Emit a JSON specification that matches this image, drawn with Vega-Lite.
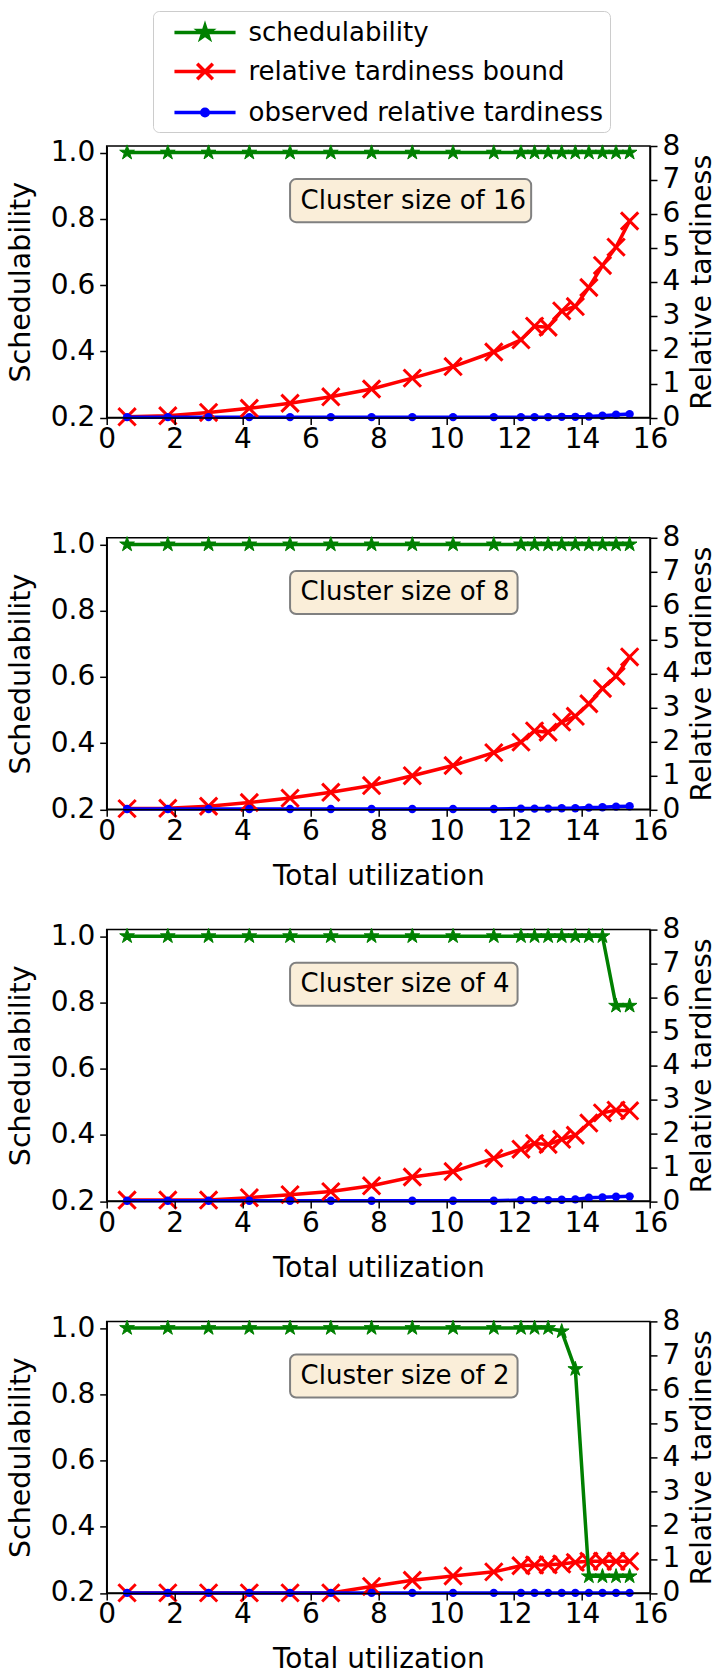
{
"$schema":"https://vega.github.io/schema/vega-lite/v6.json",
"autosize":{"type":"none"},
"padding":{"left":106.7,"top":146,"right":613.3,"bottom":1527},
"background":"white",
"datasets":{"d":[
{"c":16,"u":0.6,"sch":1,"rtb":0.02,"ort":0.01},
{"c":16,"u":1.8,"sch":1,"rtb":0.05,"ort":0.01},
{"c":16,"u":3.0,"sch":1,"rtb":0.15,"ort":0.01},
{"c":16,"u":4.2,"sch":1,"rtb":0.27,"ort":0.01},
{"c":16,"u":5.4,"sch":1,"rtb":0.42,"ort":0.01},
{"c":16,"u":6.6,"sch":1,"rtb":0.61,"ort":0.01},
{"c":16,"u":7.8,"sch":1,"rtb":0.84,"ort":0.01},
{"c":16,"u":9.0,"sch":1,"rtb":1.16,"ort":0.01},
{"c":16,"u":10.2,"sch":1,"rtb":1.50,"ort":0.01},
{"c":16,"u":11.4,"sch":1,"rtb":1.93,"ort":0.01},
{"c":16,"u":12.2,"sch":1,"rtb":2.29,"ort":0.01},
{"c":16,"u":12.6,"sch":1,"rtb":2.69,"ort":0.01},
{"c":16,"u":13.0,"sch":1,"rtb":2.66,"ort":0.01},
{"c":16,"u":13.4,"sch":1,"rtb":3.14,"ort":0.02},
{"c":16,"u":13.8,"sch":1,"rtb":3.27,"ort":0.02},
{"c":16,"u":14.2,"sch":1,"rtb":3.83,"ort":0.03},
{"c":16,"u":14.6,"sch":1,"rtb":4.48,"ort":0.05},
{"c":16,"u":15.0,"sch":1,"rtb":5.02,"ort":0.08},
{"c":16,"u":15.4,"sch":1,"rtb":5.79,"ort":0.10},
{"c":8,"u":0.6,"sch":1,"rtb":0.02,"ort":0.01},
{"c":8,"u":1.8,"sch":1,"rtb":0.03,"ort":0.01},
{"c":8,"u":3.0,"sch":1,"rtb":0.09,"ort":0.01},
{"c":8,"u":4.2,"sch":1,"rtb":0.20,"ort":0.01},
{"c":8,"u":5.4,"sch":1,"rtb":0.33,"ort":0.01},
{"c":8,"u":6.6,"sch":1,"rtb":0.50,"ort":0.01},
{"c":8,"u":7.8,"sch":1,"rtb":0.70,"ort":0.01},
{"c":8,"u":9.0,"sch":1,"rtb":0.99,"ort":0.01},
{"c":8,"u":10.2,"sch":1,"rtb":1.29,"ort":0.01},
{"c":8,"u":11.4,"sch":1,"rtb":1.67,"ort":0.01},
{"c":8,"u":12.2,"sch":1,"rtb":1.98,"ort":0.02},
{"c":8,"u":12.6,"sch":1,"rtb":2.31,"ort":0.02},
{"c":8,"u":13.0,"sch":1,"rtb":2.27,"ort":0.02},
{"c":8,"u":13.4,"sch":1,"rtb":2.57,"ort":0.03},
{"c":8,"u":13.8,"sch":1,"rtb":2.74,"ort":0.03},
{"c":8,"u":14.2,"sch":1,"rtb":3.11,"ort":0.05},
{"c":8,"u":14.6,"sch":1,"rtb":3.56,"ort":0.06},
{"c":8,"u":15.0,"sch":1,"rtb":3.92,"ort":0.08},
{"c":8,"u":15.4,"sch":1,"rtb":4.49,"ort":0.09},
{"c":4,"u":0.6,"sch":1,"rtb":0.03,"ort":0.01},
{"c":4,"u":1.8,"sch":1,"rtb":0.03,"ort":0.01},
{"c":4,"u":3.0,"sch":1,"rtb":0.03,"ort":0.01},
{"c":4,"u":4.2,"sch":1,"rtb":0.10,"ort":0.01},
{"c":4,"u":5.4,"sch":1,"rtb":0.19,"ort":0.01},
{"c":4,"u":6.6,"sch":1,"rtb":0.28,"ort":0.01},
{"c":4,"u":7.8,"sch":1,"rtb":0.45,"ort":0.01},
{"c":4,"u":9.0,"sch":1,"rtb":0.71,"ort":0.01},
{"c":4,"u":10.2,"sch":1,"rtb":0.87,"ort":0.01},
{"c":4,"u":11.4,"sch":1,"rtb":1.26,"ort":0.01},
{"c":4,"u":12.2,"sch":1,"rtb":1.53,"ort":0.03},
{"c":4,"u":12.6,"sch":1,"rtb":1.70,"ort":0.03},
{"c":4,"u":13.0,"sch":1,"rtb":1.67,"ort":0.03},
{"c":4,"u":13.4,"sch":1,"rtb":1.82,"ort":0.04},
{"c":4,"u":13.8,"sch":1,"rtb":1.94,"ort":0.05},
{"c":4,"u":14.2,"sch":1,"rtb":2.30,"ort":0.10},
{"c":4,"u":14.6,"sch":1,"rtb":2.60,"ort":0.11},
{"c":4,"u":15.0,"sch":0.79,"rtb":2.68,"ort":0.13},
{"c":4,"u":15.4,"sch":0.79,"rtb":2.66,"ort":0.14},
{"c":2,"u":0.6,"sch":1,"rtb":0,"ort":0},
{"c":2,"u":1.8,"sch":1,"rtb":0,"ort":0},
{"c":2,"u":3.0,"sch":1,"rtb":0,"ort":0},
{"c":2,"u":4.2,"sch":1,"rtb":0,"ort":0},
{"c":2,"u":5.4,"sch":1,"rtb":0,"ort":0},
{"c":2,"u":6.6,"sch":1,"rtb":0,"ort":0},
{"c":2,"u":7.8,"sch":1,"rtb":0.19,"ort":0},
{"c":2,"u":9.0,"sch":1,"rtb":0.37,"ort":0},
{"c":2,"u":10.2,"sch":1,"rtb":0.50,"ort":0},
{"c":2,"u":11.4,"sch":1,"rtb":0.62,"ort":0},
{"c":2,"u":12.2,"sch":1,"rtb":0.80,"ort":0},
{"c":2,"u":12.6,"sch":1,"rtb":0.82,"ort":0},
{"c":2,"u":13.0,"sch":1,"rtb":0.83,"ort":0},
{"c":2,"u":13.4,"sch":0.99,"rtb":0.85,"ort":0},
{"c":2,"u":13.8,"sch":0.876,"rtb":0.90,"ort":0},
{"c":2,"u":14.2,"sch":0.25,"rtb":0.93,"ort":0},
{"c":2,"u":14.6,"sch":0.25,"rtb":0.93,"ort":0},
{"c":2,"u":15.0,"sch":0.25,"rtb":0.93,"ort":0},
{"c":2,"u":15.4,"sch":0.25,"rtb":0.93,"ort":0}
]},
"data":{"name":"d"},
"spacing":119.8,
"bounds":"flush",
"vconcat":[
{"width":543.3,"height":271.5,
 "layer":[
  {"transform":[{"filter":"datum.c === 16"},{"fold":["rtb","ort"],"as":["s","v"]}],
   "encoding":{
    "x":{"field":"u","type":"quantitative","scale":{"domain":[0,16],"nice":false,"zero":false},"axis":{"values":[0,2,4,6,8,10,12,14,16],"title":null,"tickSize":7,"labelPadding":1,"labelFlush":false,"zindex":1,"labelFontSize":28,"labelFont":"DejaVu Sans"}},
    "y":{"field":"v","type":"quantitative","scale":{"domain":[0,8],"nice":false,"zero":false},"axis":{"orient":"right","values":[0,1,2,3,4,5,6,7,8],"title":"Relative tardiness","titleAngle":270,"titleBaseline":"top","titlePadding":8,"tickSize":7,"labelPadding":5,"labelFlush":false,"zindex":1,"labelFontSize":28,"titleFontSize":28.5,"titleFontWeight":"normal","labelFont":"DejaVu Sans","titleFont":"DejaVu Sans"}}},
   "layer":[
    {"mark":{"type":"line","strokeWidth":3.5},
     "encoding":{"color":{"field":"s","type":"nominal","scale":{"domain":["sch","rtb","ort"],"range":["#008000","#ff0000","#0000ff"]},
      "legend":{"orient":"none","legendX":46.3,"legendY":-135,"title":null,
       "labelExpr":"datum.value === 'sch' ? 'schedulability' : datum.value === 'rtb' ? 'relative tardiness bound' : 'observed relative tardiness'",
       "labelFontSize":26,"labelFont":"DejaVu Sans","labelColor":"black","labelLimit":0,"symbolSize":676,"symbolStrokeWidth":3.5,"rowPadding":11,"padding":6.5,
       "symbolOffset":30.5,"labelOffset":28.5,
       "strokeColor":"#cccccc","fillColor":"white","cornerRadius":6,"symbolOpacity":1,
       "encode":{"symbols":{"update":{
        "shape":{"signal":"datum.value === 'sch' ? 'M-2.35,0L2.35,0M0,-0.5L0.112,-0.155L0.476,-0.155L0.182,0.059L0.294,0.405L0,0.191L-0.294,0.405L-0.182,0.059L-0.476,-0.155L-0.112,-0.155Z' : datum.value === 'rtb' ? 'M-2.35,0L2.35,0M-0.6,-0.6L0.6,0.6M-0.6,0.6L0.6,-0.6' : 'M-2.35,0L2.35,0M0.25,0A0.25,0.25,0,1,1,-0.25,0A0.25,0.25,0,1,1,0.25,0Z'"},
        "fill":{"signal":"datum.value === 'rtb' ? 'transparent' : datum.value === 'sch' ? '#008000' : '#0000ff'"},
        "stroke":{"signal":"datum.value === 'sch' ? '#008000' : datum.value === 'rtb' ? '#ff0000' : '#0000ff'"}}}}}}}},
    {"transform":[{"filter":"datum.s === 'rtb'"}],"mark":{"type":"point","shape":"M-1,-1L1,1M-1,1L1,-1","size":300,"strokeWidth":3,"color":"#ff0000","filled":false,"opacity":1}},
    {"transform":[{"filter":"datum.s === 'ort'"}],"mark":{"type":"point","shape":"circle","size":70,"filled":true,"color":"#0000ff","opacity":1}}
   ]},
  {"layer":[
    {"data":{"values":[{"label":"Cluster size of 16"}]},"mark":{"type":"rect","fill":"#faeed9","stroke":"#808080","strokeWidth":2,"cornerRadius":6},
     "encoding":{"x":{"datum":5.4,"type":"quantitative","scale":{"domain":[0,16],"nice":false,"zero":false},"axis":{"values":[0,2,4,6,8,10,12,14,16],"title":null,"tickSize":7,"labelPadding":1,"labelFlush":false,"zindex":1,"labelFontSize":28,"labelFont":"DejaVu Sans"}},"x2":{"datum":12.5},
      "y":{"datum":0.79,"type":"quantitative","scale":{"domain":[0.2,1.02],"nice":false,"zero":false},"axis":{"orient":"left","values":[0.2,0.4,0.6,0.8,1.0],"format":".1f","title":"Schedulability","titlePadding":14.5,"tickSize":7,"labelPadding":5,"labelFlush":false,"zindex":1,"labelFontSize":28,"titleFontSize":28.5,"titleFontWeight":"normal","labelFont":"DejaVu Sans","titleFont":"DejaVu Sans"}},"y2":{"datum":0.92}}},
    {"data":{"values":[{"label":"Cluster size of 16"}]},"mark":{"type":"text","align":"left","baseline":"middle","fontSize":26,"font":"DejaVu Sans","color":"black"},
     "encoding":{"x":{"datum":5.71,"type":"quantitative","scale":{"domain":[0,16],"nice":false,"zero":false},"axis":{"values":[0,2,4,6,8,10,12,14,16],"title":null,"tickSize":7,"labelPadding":1,"labelFlush":false,"zindex":1,"labelFontSize":28,"labelFont":"DejaVu Sans"}},
      "y":{"datum":0.855,"type":"quantitative","scale":{"domain":[0.2,1.02],"nice":false,"zero":false},"axis":{"orient":"left","values":[0.2,0.4,0.6,0.8,1.0],"format":".1f","title":"Schedulability","titlePadding":14.5,"tickSize":7,"labelPadding":5,"labelFlush":false,"zindex":1,"labelFontSize":28,"titleFontSize":28.5,"titleFontWeight":"normal","labelFont":"DejaVu Sans","titleFont":"DejaVu Sans"}},"text":{"field":"label"}}},
    {"transform":[{"filter":"datum.c === 16"},{"fold":["sch"],"as":["s","v"]}],
     "encoding":{
      "x":{"field":"u","type":"quantitative","scale":{"domain":[0,16],"nice":false,"zero":false},"axis":{"values":[0,2,4,6,8,10,12,14,16],"title":null,"tickSize":7,"labelPadding":1,"labelFlush":false,"zindex":1,"labelFontSize":28,"labelFont":"DejaVu Sans"}},
      "y":{"field":"v","type":"quantitative","scale":{"domain":[0.2,1.02],"nice":false,"zero":false},"axis":{"orient":"left","values":[0.2,0.4,0.6,0.8,1.0],"format":".1f","title":"Schedulability","titlePadding":14.5,"tickSize":7,"labelPadding":5,"labelFlush":false,"zindex":1,"labelFontSize":28,"titleFontSize":28.5,"titleFontWeight":"normal","labelFont":"DejaVu Sans","titleFont":"DejaVu Sans"}}},
     "layer":[
      {"mark":{"type":"line","strokeWidth":3.5},"encoding":{"color":{"field":"s","type":"nominal","scale":{"domain":["sch","rtb","ort"],"range":["#008000","#ff0000","#0000ff"]},"legend":null}}},
      {"mark":{"type":"point","shape":"M0,-1L0.225,-0.309L0.951,-0.309L0.363,0.118L0.588,0.809L0,0.382L-0.588,0.809L-0.363,0.118L-0.951,-0.309L-0.225,-0.309Z","size":240,"filled":true,"color":"#008000","stroke":"#008000","strokeWidth":1,"opacity":1}}
     ]}
  ]}
 ],
 "resolve":{"scale":{"y":"independent"}}},
{"width":543.3,"height":271.5,
 "layer":[
  {"transform":[{"filter":"datum.c === 8"},{"fold":["rtb","ort"],"as":["s","v"]}],
   "encoding":{
    "x":{"field":"u","type":"quantitative","scale":{"domain":[0,16],"nice":false,"zero":false},"axis":{"values":[0,2,4,6,8,10,12,14,16],"title":"Total utilization","titlePadding":17,"tickSize":7,"labelPadding":1,"labelFlush":false,"zindex":1,"labelFontSize":28,"titleFontSize":28,"titleFontWeight":"normal","labelFont":"DejaVu Sans","titleFont":"DejaVu Sans"}},
    "y":{"field":"v","type":"quantitative","scale":{"domain":[0,8],"nice":false,"zero":false},"axis":{"orient":"right","values":[0,1,2,3,4,5,6,7,8],"title":"Relative tardiness","titleAngle":270,"titleBaseline":"top","titlePadding":8,"tickSize":7,"labelPadding":5,"labelFlush":false,"zindex":1,"labelFontSize":28,"titleFontSize":28.5,"titleFontWeight":"normal","labelFont":"DejaVu Sans","titleFont":"DejaVu Sans"}}},
   "layer":[
    {"mark":{"type":"line","strokeWidth":3.5},"encoding":{"color":{"field":"s","type":"nominal","scale":{"domain":["sch","rtb","ort"],"range":["#008000","#ff0000","#0000ff"]},"legend":null}}},
    {"transform":[{"filter":"datum.s === 'rtb'"}],"mark":{"type":"point","shape":"M-1,-1L1,1M-1,1L1,-1","size":300,"strokeWidth":3,"color":"#ff0000","filled":false,"opacity":1}},
    {"transform":[{"filter":"datum.s === 'ort'"}],"mark":{"type":"point","shape":"circle","size":70,"filled":true,"color":"#0000ff","opacity":1}}
   ]},
  {"layer":[
    {"data":{"values":[{"label":"Cluster size of 8"}]},"mark":{"type":"rect","fill":"#faeed9","stroke":"#808080","strokeWidth":2,"cornerRadius":6},
     "encoding":{"x":{"datum":5.4,"type":"quantitative","scale":{"domain":[0,16],"nice":false,"zero":false},"axis":{"values":[0,2,4,6,8,10,12,14,16],"title":"Total utilization","titlePadding":17,"tickSize":7,"labelPadding":1,"labelFlush":false,"zindex":1,"labelFontSize":28,"titleFontSize":28,"titleFontWeight":"normal","labelFont":"DejaVu Sans","titleFont":"DejaVu Sans"}},"x2":{"datum":12.1},
      "y":{"datum":0.79,"type":"quantitative","scale":{"domain":[0.2,1.02],"nice":false,"zero":false},"axis":{"orient":"left","values":[0.2,0.4,0.6,0.8,1.0],"format":".1f","title":"Schedulability","titlePadding":14.5,"tickSize":7,"labelPadding":5,"labelFlush":false,"zindex":1,"labelFontSize":28,"titleFontSize":28.5,"titleFontWeight":"normal","labelFont":"DejaVu Sans","titleFont":"DejaVu Sans"}},"y2":{"datum":0.92}}},
    {"data":{"values":[{"label":"Cluster size of 8"}]},"mark":{"type":"text","align":"left","baseline":"middle","fontSize":26,"font":"DejaVu Sans","color":"black"},
     "encoding":{"x":{"datum":5.71,"type":"quantitative","scale":{"domain":[0,16],"nice":false,"zero":false},"axis":{"values":[0,2,4,6,8,10,12,14,16],"title":"Total utilization","titlePadding":17,"tickSize":7,"labelPadding":1,"labelFlush":false,"zindex":1,"labelFontSize":28,"titleFontSize":28,"titleFontWeight":"normal","labelFont":"DejaVu Sans","titleFont":"DejaVu Sans"}},
      "y":{"datum":0.855,"type":"quantitative","scale":{"domain":[0.2,1.02],"nice":false,"zero":false},"axis":{"orient":"left","values":[0.2,0.4,0.6,0.8,1.0],"format":".1f","title":"Schedulability","titlePadding":14.5,"tickSize":7,"labelPadding":5,"labelFlush":false,"zindex":1,"labelFontSize":28,"titleFontSize":28.5,"titleFontWeight":"normal","labelFont":"DejaVu Sans","titleFont":"DejaVu Sans"}},"text":{"field":"label"}}},
    {"transform":[{"filter":"datum.c === 8"},{"fold":["sch"],"as":["s","v"]}],
     "encoding":{
      "x":{"field":"u","type":"quantitative","scale":{"domain":[0,16],"nice":false,"zero":false},"axis":{"values":[0,2,4,6,8,10,12,14,16],"title":"Total utilization","titlePadding":17,"tickSize":7,"labelPadding":1,"labelFlush":false,"zindex":1,"labelFontSize":28,"titleFontSize":28,"titleFontWeight":"normal","labelFont":"DejaVu Sans","titleFont":"DejaVu Sans"}},
      "y":{"field":"v","type":"quantitative","scale":{"domain":[0.2,1.02],"nice":false,"zero":false},"axis":{"orient":"left","values":[0.2,0.4,0.6,0.8,1.0],"format":".1f","title":"Schedulability","titlePadding":14.5,"tickSize":7,"labelPadding":5,"labelFlush":false,"zindex":1,"labelFontSize":28,"titleFontSize":28.5,"titleFontWeight":"normal","labelFont":"DejaVu Sans","titleFont":"DejaVu Sans"}}},
     "layer":[
      {"mark":{"type":"line","strokeWidth":3.5},"encoding":{"color":{"field":"s","type":"nominal","scale":{"domain":["sch","rtb","ort"],"range":["#008000","#ff0000","#0000ff"]},"legend":null}}},
      {"mark":{"type":"point","shape":"M0,-1L0.225,-0.309L0.951,-0.309L0.363,0.118L0.588,0.809L0,0.382L-0.588,0.809L-0.363,0.118L-0.951,-0.309L-0.225,-0.309Z","size":240,"filled":true,"color":"#008000","stroke":"#008000","strokeWidth":1,"opacity":1}}
     ]}
  ]}
 ],
 "resolve":{"scale":{"y":"independent"}}},
{"width":543.3,"height":271.5,
 "layer":[
  {"transform":[{"filter":"datum.c === 4"},{"fold":["rtb","ort"],"as":["s","v"]}],
   "encoding":{
    "x":{"field":"u","type":"quantitative","scale":{"domain":[0,16],"nice":false,"zero":false},"axis":{"values":[0,2,4,6,8,10,12,14,16],"title":"Total utilization","titlePadding":17,"tickSize":7,"labelPadding":1,"labelFlush":false,"zindex":1,"labelFontSize":28,"titleFontSize":28,"titleFontWeight":"normal","labelFont":"DejaVu Sans","titleFont":"DejaVu Sans"}},
    "y":{"field":"v","type":"quantitative","scale":{"domain":[0,8],"nice":false,"zero":false},"axis":{"orient":"right","values":[0,1,2,3,4,5,6,7,8],"title":"Relative tardiness","titleAngle":270,"titleBaseline":"top","titlePadding":8,"tickSize":7,"labelPadding":5,"labelFlush":false,"zindex":1,"labelFontSize":28,"titleFontSize":28.5,"titleFontWeight":"normal","labelFont":"DejaVu Sans","titleFont":"DejaVu Sans"}}},
   "layer":[
    {"mark":{"type":"line","strokeWidth":3.5},"encoding":{"color":{"field":"s","type":"nominal","scale":{"domain":["sch","rtb","ort"],"range":["#008000","#ff0000","#0000ff"]},"legend":null}}},
    {"transform":[{"filter":"datum.s === 'rtb'"}],"mark":{"type":"point","shape":"M-1,-1L1,1M-1,1L1,-1","size":300,"strokeWidth":3,"color":"#ff0000","filled":false,"opacity":1}},
    {"transform":[{"filter":"datum.s === 'ort'"}],"mark":{"type":"point","shape":"circle","size":70,"filled":true,"color":"#0000ff","opacity":1}}
   ]},
  {"layer":[
    {"data":{"values":[{"label":"Cluster size of 4"}]},"mark":{"type":"rect","fill":"#faeed9","stroke":"#808080","strokeWidth":2,"cornerRadius":6},
     "encoding":{"x":{"datum":5.4,"type":"quantitative","scale":{"domain":[0,16],"nice":false,"zero":false},"axis":{"values":[0,2,4,6,8,10,12,14,16],"title":"Total utilization","titlePadding":17,"tickSize":7,"labelPadding":1,"labelFlush":false,"zindex":1,"labelFontSize":28,"titleFontSize":28,"titleFontWeight":"normal","labelFont":"DejaVu Sans","titleFont":"DejaVu Sans"}},"x2":{"datum":12.1},
      "y":{"datum":0.79,"type":"quantitative","scale":{"domain":[0.2,1.02],"nice":false,"zero":false},"axis":{"orient":"left","values":[0.2,0.4,0.6,0.8,1.0],"format":".1f","title":"Schedulability","titlePadding":14.5,"tickSize":7,"labelPadding":5,"labelFlush":false,"zindex":1,"labelFontSize":28,"titleFontSize":28.5,"titleFontWeight":"normal","labelFont":"DejaVu Sans","titleFont":"DejaVu Sans"}},"y2":{"datum":0.92}}},
    {"data":{"values":[{"label":"Cluster size of 4"}]},"mark":{"type":"text","align":"left","baseline":"middle","fontSize":26,"font":"DejaVu Sans","color":"black"},
     "encoding":{"x":{"datum":5.71,"type":"quantitative","scale":{"domain":[0,16],"nice":false,"zero":false},"axis":{"values":[0,2,4,6,8,10,12,14,16],"title":"Total utilization","titlePadding":17,"tickSize":7,"labelPadding":1,"labelFlush":false,"zindex":1,"labelFontSize":28,"titleFontSize":28,"titleFontWeight":"normal","labelFont":"DejaVu Sans","titleFont":"DejaVu Sans"}},
      "y":{"datum":0.855,"type":"quantitative","scale":{"domain":[0.2,1.02],"nice":false,"zero":false},"axis":{"orient":"left","values":[0.2,0.4,0.6,0.8,1.0],"format":".1f","title":"Schedulability","titlePadding":14.5,"tickSize":7,"labelPadding":5,"labelFlush":false,"zindex":1,"labelFontSize":28,"titleFontSize":28.5,"titleFontWeight":"normal","labelFont":"DejaVu Sans","titleFont":"DejaVu Sans"}},"text":{"field":"label"}}},
    {"transform":[{"filter":"datum.c === 4"},{"fold":["sch"],"as":["s","v"]}],
     "encoding":{
      "x":{"field":"u","type":"quantitative","scale":{"domain":[0,16],"nice":false,"zero":false},"axis":{"values":[0,2,4,6,8,10,12,14,16],"title":"Total utilization","titlePadding":17,"tickSize":7,"labelPadding":1,"labelFlush":false,"zindex":1,"labelFontSize":28,"titleFontSize":28,"titleFontWeight":"normal","labelFont":"DejaVu Sans","titleFont":"DejaVu Sans"}},
      "y":{"field":"v","type":"quantitative","scale":{"domain":[0.2,1.02],"nice":false,"zero":false},"axis":{"orient":"left","values":[0.2,0.4,0.6,0.8,1.0],"format":".1f","title":"Schedulability","titlePadding":14.5,"tickSize":7,"labelPadding":5,"labelFlush":false,"zindex":1,"labelFontSize":28,"titleFontSize":28.5,"titleFontWeight":"normal","labelFont":"DejaVu Sans","titleFont":"DejaVu Sans"}}},
     "layer":[
      {"mark":{"type":"line","strokeWidth":3.5},"encoding":{"color":{"field":"s","type":"nominal","scale":{"domain":["sch","rtb","ort"],"range":["#008000","#ff0000","#0000ff"]},"legend":null}}},
      {"mark":{"type":"point","shape":"M0,-1L0.225,-0.309L0.951,-0.309L0.363,0.118L0.588,0.809L0,0.382L-0.588,0.809L-0.363,0.118L-0.951,-0.309L-0.225,-0.309Z","size":240,"filled":true,"color":"#008000","stroke":"#008000","strokeWidth":1,"opacity":1}}
     ]}
  ]}
 ],
 "resolve":{"scale":{"y":"independent"}}},
{"width":543.3,"height":271.5,
 "layer":[
  {"transform":[{"filter":"datum.c === 2"},{"fold":["rtb","ort"],"as":["s","v"]}],
   "encoding":{
    "x":{"field":"u","type":"quantitative","scale":{"domain":[0,16],"nice":false,"zero":false},"axis":{"values":[0,2,4,6,8,10,12,14,16],"title":"Total utilization","titlePadding":17,"tickSize":7,"labelPadding":1,"labelFlush":false,"zindex":1,"labelFontSize":28,"titleFontSize":28,"titleFontWeight":"normal","labelFont":"DejaVu Sans","titleFont":"DejaVu Sans"}},
    "y":{"field":"v","type":"quantitative","scale":{"domain":[0,8],"nice":false,"zero":false},"axis":{"orient":"right","values":[0,1,2,3,4,5,6,7,8],"title":"Relative tardiness","titleAngle":270,"titleBaseline":"top","titlePadding":8,"tickSize":7,"labelPadding":5,"labelFlush":false,"zindex":1,"labelFontSize":28,"titleFontSize":28.5,"titleFontWeight":"normal","labelFont":"DejaVu Sans","titleFont":"DejaVu Sans"}}},
   "layer":[
    {"mark":{"type":"line","strokeWidth":3.5},"encoding":{"color":{"field":"s","type":"nominal","scale":{"domain":["sch","rtb","ort"],"range":["#008000","#ff0000","#0000ff"]},"legend":null}}},
    {"transform":[{"filter":"datum.s === 'rtb'"}],"mark":{"type":"point","shape":"M-1,-1L1,1M-1,1L1,-1","size":300,"strokeWidth":3,"color":"#ff0000","filled":false,"opacity":1}},
    {"transform":[{"filter":"datum.s === 'ort'"}],"mark":{"type":"point","shape":"circle","size":70,"filled":true,"color":"#0000ff","opacity":1}}
   ]},
  {"layer":[
    {"data":{"values":[{"label":"Cluster size of 2"}]},"mark":{"type":"rect","fill":"#faeed9","stroke":"#808080","strokeWidth":2,"cornerRadius":6},
     "encoding":{"x":{"datum":5.4,"type":"quantitative","scale":{"domain":[0,16],"nice":false,"zero":false},"axis":{"values":[0,2,4,6,8,10,12,14,16],"title":"Total utilization","titlePadding":17,"tickSize":7,"labelPadding":1,"labelFlush":false,"zindex":1,"labelFontSize":28,"titleFontSize":28,"titleFontWeight":"normal","labelFont":"DejaVu Sans","titleFont":"DejaVu Sans"}},"x2":{"datum":12.1},
      "y":{"datum":0.79,"type":"quantitative","scale":{"domain":[0.2,1.02],"nice":false,"zero":false},"axis":{"orient":"left","values":[0.2,0.4,0.6,0.8,1.0],"format":".1f","title":"Schedulability","titlePadding":14.5,"tickSize":7,"labelPadding":5,"labelFlush":false,"zindex":1,"labelFontSize":28,"titleFontSize":28.5,"titleFontWeight":"normal","labelFont":"DejaVu Sans","titleFont":"DejaVu Sans"}},"y2":{"datum":0.92}}},
    {"data":{"values":[{"label":"Cluster size of 2"}]},"mark":{"type":"text","align":"left","baseline":"middle","fontSize":26,"font":"DejaVu Sans","color":"black"},
     "encoding":{"x":{"datum":5.71,"type":"quantitative","scale":{"domain":[0,16],"nice":false,"zero":false},"axis":{"values":[0,2,4,6,8,10,12,14,16],"title":"Total utilization","titlePadding":17,"tickSize":7,"labelPadding":1,"labelFlush":false,"zindex":1,"labelFontSize":28,"titleFontSize":28,"titleFontWeight":"normal","labelFont":"DejaVu Sans","titleFont":"DejaVu Sans"}},
      "y":{"datum":0.855,"type":"quantitative","scale":{"domain":[0.2,1.02],"nice":false,"zero":false},"axis":{"orient":"left","values":[0.2,0.4,0.6,0.8,1.0],"format":".1f","title":"Schedulability","titlePadding":14.5,"tickSize":7,"labelPadding":5,"labelFlush":false,"zindex":1,"labelFontSize":28,"titleFontSize":28.5,"titleFontWeight":"normal","labelFont":"DejaVu Sans","titleFont":"DejaVu Sans"}},"text":{"field":"label"}}},
    {"transform":[{"filter":"datum.c === 2"},{"fold":["sch"],"as":["s","v"]}],
     "encoding":{
      "x":{"field":"u","type":"quantitative","scale":{"domain":[0,16],"nice":false,"zero":false},"axis":{"values":[0,2,4,6,8,10,12,14,16],"title":"Total utilization","titlePadding":17,"tickSize":7,"labelPadding":1,"labelFlush":false,"zindex":1,"labelFontSize":28,"titleFontSize":28,"titleFontWeight":"normal","labelFont":"DejaVu Sans","titleFont":"DejaVu Sans"}},
      "y":{"field":"v","type":"quantitative","scale":{"domain":[0.2,1.02],"nice":false,"zero":false},"axis":{"orient":"left","values":[0.2,0.4,0.6,0.8,1.0],"format":".1f","title":"Schedulability","titlePadding":14.5,"tickSize":7,"labelPadding":5,"labelFlush":false,"zindex":1,"labelFontSize":28,"titleFontSize":28.5,"titleFontWeight":"normal","labelFont":"DejaVu Sans","titleFont":"DejaVu Sans"}}},
     "layer":[
      {"mark":{"type":"line","strokeWidth":3.5},"encoding":{"color":{"field":"s","type":"nominal","scale":{"domain":["sch","rtb","ort"],"range":["#008000","#ff0000","#0000ff"]},"legend":null}}},
      {"mark":{"type":"point","shape":"M0,-1L0.225,-0.309L0.951,-0.309L0.363,0.118L0.588,0.809L0,0.382L-0.588,0.809L-0.363,0.118L-0.951,-0.309L-0.225,-0.309Z","size":240,"filled":true,"color":"#008000","stroke":"#008000","strokeWidth":1,"opacity":1}}
     ]}
  ]}
 ],
 "resolve":{"scale":{"y":"independent"}}}
],
"config":{
 "font":"DejaVu Sans",
 "view":{"stroke":"black","strokeWidth":1.5},
 "axis":{"domainColor":"black","domainWidth":1.5,"tickColor":"black","tickWidth":1.5,"labelColor":"black","titleColor":"black","grid":false}
}
}
